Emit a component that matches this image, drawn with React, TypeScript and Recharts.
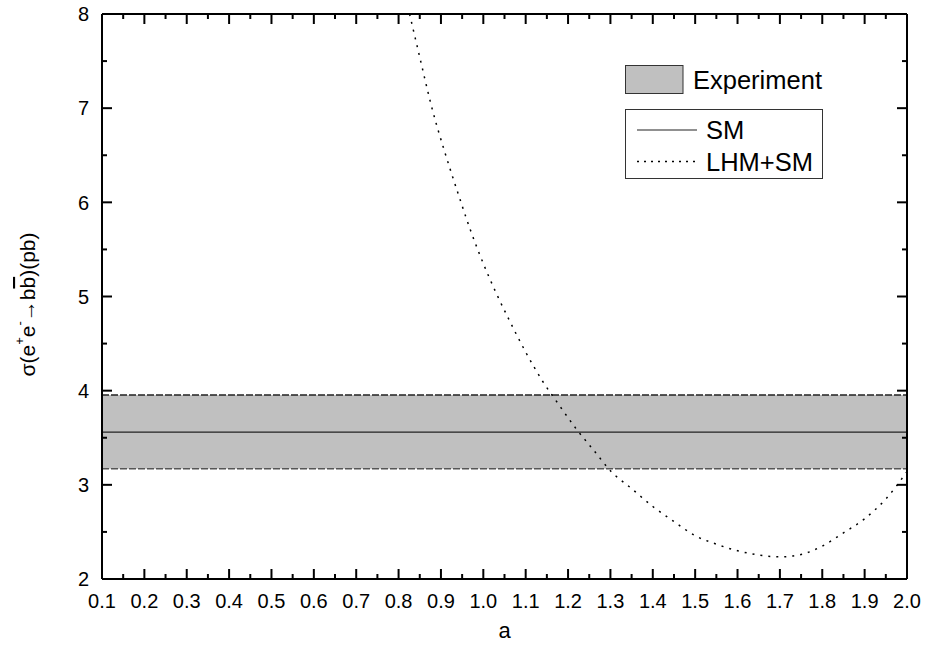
import {
  ComposedChart,
  Line,
  XAxis,
  YAxis,
  ReferenceArea,
  ReferenceLine,
  Legend
} from "recharts";

const FONT = "'Liberation Sans', Arial, Helvetica, sans-serif";

// x axis ticks (major carry labels)
const xMajorTicks = [0.1, 0.2, 0.3, 0.4, 0.5, 0.6, 0.7, 0.8, 0.9, 1.0, 1.1, 1.2, 1.3, 1.4, 1.5, 1.6, 1.7, 1.8, 1.9, 2.0];
const xMinorTicks = [0.15, 0.25, 0.35, 0.45, 0.55, 0.65, 0.75, 0.85, 0.95, 1.05, 1.15, 1.25, 1.35, 1.45, 1.55, 1.65, 1.75, 1.85, 1.95];
const yMajorTicks = [2, 3, 4, 5, 6, 7, 8];
const yMinorTicks = [2.5, 3.5, 4.5, 5.5, 6.5, 7.5];

// experiment band and SM prediction
const expLow = 3.17;
const expHigh = 3.955;
const smA = [0.1, 2.0];
const smSigma = [3.56, 3.56];

// LHM+SM curve
const lhmA = [0.826, 0.85, 0.88, 0.91, 0.94, 0.97, 1.0, 1.03, 1.06, 1.1, 1.14, 1.18, 1.22, 1.26, 1.3, 1.35, 1.4, 1.45, 1.5, 1.55, 1.6, 1.65, 1.7, 1.75, 1.8, 1.85, 1.9, 1.95, 2.0];
const lhmSigma = [8.0, 7.54, 6.98, 6.52, 6.1, 5.7, 5.35, 5.04, 4.76, 4.41, 4.1, 3.84, 3.59, 3.37, 3.15, 2.96, 2.77, 2.61, 2.46, 2.37, 2.3, 2.255, 2.235, 2.26, 2.35, 2.49, 2.64, 2.85, 3.14];

const lhmData = lhmA.map((a, i) => ({ a, sigma: lhmSigma[i] }));
const smData = smA.map((a, i) => ({ a, sigma: smSigma[i] }));

const xTicks = [...xMajorTicks, ...xMinorTicks].sort((p, q) => p - q);
const yTicks = [...yMajorTicks, ...yMinorTicks].sort((p, q) => p - q);

const isMajor = (list: number[], v: number) => list.some((t) => Math.abs(t - v) < 1e-6);

const BottomTick = (props: any) => {
  const { x, y, payload } = props;
  const major = isMajor(xMajorTicks, payload.value);
  return (
    <g>
      <line x1={x} x2={x} y1={y} y2={y - (major ? 10 : 5)} stroke="#000" strokeWidth={2} />
      {major && (
        <text x={x} y={y + 29} textAnchor="middle" fontSize={20} fontFamily={FONT} fill="#000">
          {Number(payload.value).toFixed(1)}
        </text>
      )}
    </g>
  );
};

const TopTick = (props: any) => {
  const { x, y, payload } = props;
  const major = isMajor(xMajorTicks, payload.value);
  return <line x1={x} x2={x} y1={y} y2={y + (major ? 10 : 5)} stroke="#000" strokeWidth={2} />;
};

const LeftTick = (props: any) => {
  const { x, y, payload } = props;
  const major = isMajor(yMajorTicks, payload.value);
  return (
    <g>
      <line x1={x} x2={x + (major ? 10 : 5)} y1={y} y2={y} stroke="#000" strokeWidth={2} />
      {major && (
        <text x={x - 13} y={y} dy="0.36em" textAnchor="end" fontSize={20} fontFamily={FONT} fill="#000">
          {payload.value}
        </text>
      )}
    </g>
  );
};

const RightTick = (props: any) => {
  const { x, y, payload } = props;
  const major = isMajor(yMajorTicks, payload.value);
  return <line x1={x} x2={x - (major ? 10 : 5)} y1={y} y2={y} stroke="#000" strokeWidth={2} />;
};

const YLabel = (props: any) => {
  const { viewBox } = props;
  const cx = viewBox.x + 27;
  const cy = viewBox.y + viewBox.height / 2 + 8;
  return (
    <text
      x={cx}
      y={cy}
      transform={`rotate(-90, ${cx}, ${cy})`}
      textAnchor="middle"
      dominantBaseline="central"
      fontSize={21}
      fontFamily={FONT}
      fill="#000"
    >
      σ(e
      <tspan dy={-8} fontSize={13}>+</tspan>
      <tspan dy={8}>e</tspan>
      <tspan dy={-8} fontSize={13}>-</tspan>
      <tspan dy={8}>→b</tspan>
      <tspan style={{ textDecoration: "overline" }}>b</tspan>
      <tspan>)(pb)</tspan>
    </text>
  );
};

const XLabel = (props: any) => {
  const { viewBox } = props;
  return (
    <text
      x={viewBox.x + viewBox.width / 2}
      y={viewBox.y + 59}
      textAnchor="middle"
      fontSize={22}
      fontFamily={FONT}
      fill="#000"
    >
      a
    </text>
  );
};

const LegendBox = () => (
  <svg width={200} height={116} style={{ display: "block" }}>
    <rect x={0.5} y={0.5} width={57.5} height={28} fill="#c0c0c0" stroke="#333" strokeWidth={1} />
    <text x={68} y={14.5} dominantBaseline="central" fontSize={25.5} fontFamily={FONT} fill="#000">
      Experiment
    </text>
    <rect x={0.5} y={44.5} width={197} height={69} fill="#fff" stroke="#333" strokeWidth={1} />
    <line x1={12} x2={72} y1={65} y2={65} stroke="#222" strokeWidth={1.2} />
    <text x={81} y={65} dominantBaseline="central" fontSize={25.5} fontFamily={FONT} fill="#000">
      SM
    </text>
    <line x1={12} x2={72} y1={96.5} y2={96.5} stroke="#000" strokeWidth={1.5} strokeDasharray="2 5" />
    <text x={81} y={96.5} dominantBaseline="central" fontSize={25.5} fontFamily={FONT} fill="#000">
      LHM+SM
    </text>
  </svg>
);

export default function App() {
  return (
    <div style={{ position: "absolute", left: 0, top: 0, width: 927, height: 658 }}>
      <ComposedChart width={927} height={658} margin={{ top: 13, right: 18, bottom: 19, left: 0 }}>
        <XAxis
          dataKey="a"
          type="number"
          domain={[0.1, 2.0]}
          ticks={xTicks}
          interval={0}
          allowDataOverflow
          height={60}
          tickSize={0}
          tickMargin={0}
          tickLine={false}
          axisLine={{ stroke: "#000", strokeWidth: 2 }}
          tick={<BottomTick />}
          label={{ content: <XLabel /> }}
        />
        <XAxis
          xAxisId="top"
          orientation="top"
          dataKey="a"
          type="number"
          domain={[0.1, 2.0]}
          ticks={xTicks}
          interval={0}
          allowDataOverflow
          height={1}
          tickSize={0}
          tickMargin={0}
          tickLine={false}
          axisLine={{ stroke: "#000", strokeWidth: 2 }}
          tick={<TopTick />}
        />
        <YAxis
          type="number"
          domain={[2, 8]}
          ticks={yTicks}
          interval={0}
          allowDataOverflow
          width={102}
          tickSize={0}
          tickMargin={0}
          tickLine={false}
          axisLine={{ stroke: "#000", strokeWidth: 2 }}
          tick={<LeftTick />}
          label={{ content: <YLabel /> }}
        />
        <YAxis
          yAxisId="right"
          orientation="right"
          type="number"
          domain={[2, 8]}
          ticks={yTicks}
          interval={0}
          allowDataOverflow
          width={2}
          tickSize={0}
          tickMargin={0}
          tickLine={false}
          axisLine={{ stroke: "#000", strokeWidth: 2 }}
          tick={<RightTick />}
        />
        <ReferenceArea y1={expLow} y2={expHigh} fill="#c0c0c0" fillOpacity={1} stroke="none" />
        <ReferenceLine y={expHigh} stroke="#222" strokeWidth={1.5} strokeDasharray="7 2" />
        <ReferenceLine y={expLow} stroke="#555" strokeWidth={1.5} strokeDasharray="7 2" />
        <Line
          data={smData}
          dataKey="sigma"
          stroke="#222"
          strokeWidth={1.2}
          dot={false}
          isAnimationActive={false}
        />
        <Line
          data={lhmData}
          dataKey="sigma"
          type="monotone"
          stroke="#000"
          strokeWidth={1.5}
          strokeDasharray="2 6"
          dot={false}
          isAnimationActive={false}
        />
        <Legend
          layout="vertical"
          align="center"
          verticalAlign="middle"
          content={<LegendBox />}
          wrapperStyle={{ position: "absolute", left: 625, top: 65, width: 200, height: 116 }}
        />
      </ComposedChart>
    </div>
  );
}
